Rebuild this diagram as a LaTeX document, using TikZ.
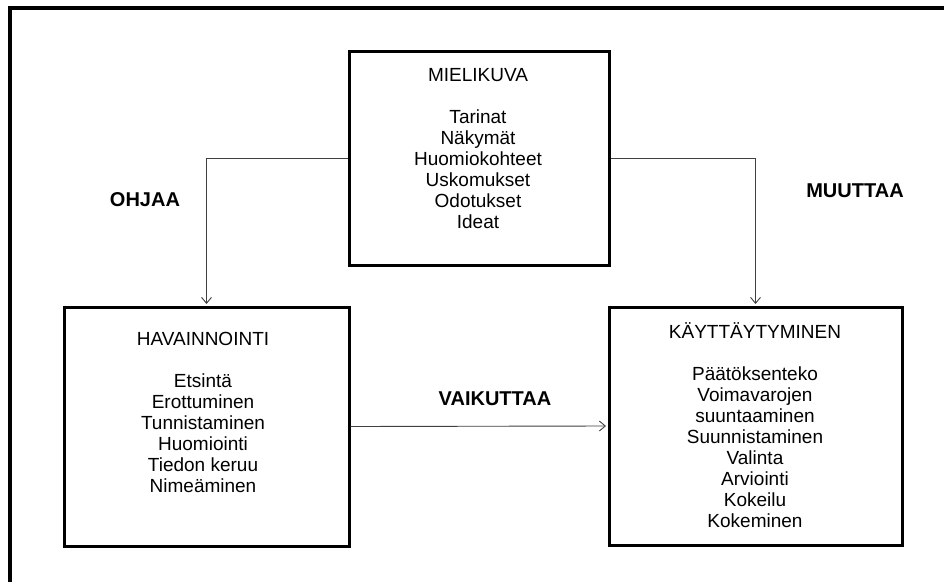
\documentclass[tikz,border=0pt]{standalone}
\usepackage{fontspec}
\setmainfont{Liberation Sans}
\usetikzlibrary{arrows.meta}
\begin{document}
\begin{tikzpicture}[x=1pt,y=-1pt,
  bigbox/.style={draw=black,line width=3pt,rectangle,inner sep=0pt},
  boxtext/.style={anchor=north,inner sep=0pt,align=center,
    font=\fontsize{19}{21}\selectfont},
  lbl/.style={inner sep=0pt,font=\fontsize{20}{24}\selectfont\bfseries},
  arr/.style={draw=black!75,line width=0.9pt,-{Straight Barb[length=6pt,width=10pt]},shorten >=1.5pt}]
\useasboundingbox (0,0) rectangle (944,581);
\fill[white] (0,0) rectangle (944,581);
\begin{scope}
\clip (0,0) rectangle (944,581);
% outer frame
\draw[line width=3.5pt] (10,600) -- (10,8) -- (960,8);
\end{scope}
% boxes
\node[bigbox,minimum width=260pt,minimum height=214pt] (top) at (479,158) {};
\node[bigbox,minimum width=285pt,minimum height=239pt] (left) at (206.5,426.5) {};
\node[bigbox,minimum width=293pt,minimum height=238pt] (right) at (755.5,426) {};
% texts
\node[boxtext] (tt) at (478,65.5) {\rule{0pt}{16pt}MIELIKUVA\\ \\Tarinat\\Näkymät\\Huomiokohteet\\Uskomukset\\Odotukset\\Ideat};
\node[boxtext] (lt) at (203,329.5) {\rule{0pt}{16pt}HAVAINNOINTI\\ \\Etsintä\\Erottuminen\\Tunnistaminen\\Huomiointi\\Tiedon keruu\\Nimeäminen};
\node[boxtext] (rt) at (755,322.5) {\rule{0pt}{16pt}KÄYTTÄYTYMINEN\\ \\Päätöksenteko\\Voimavarojen\\suuntaaminen\\Suunnistaminen\\Valinta\\Arviointi\\Kokeilu\\Kokeminen};
% labels
\node[lbl] (ohjaa) at (145,200) {OHJAA};
\node[lbl] (muuttaa) at (855,191) {MUUTTAA};
\node[lbl] (vaikuttaa) at (495,398.5) {VAIKUTTAA};
% connectors
\draw[arr] (top.west) -| (left.north);
\draw[arr] (top.east) -| (right.north);
\draw[arr] (left.east) -- (right.west);
\end{tikzpicture}
\end{document}
